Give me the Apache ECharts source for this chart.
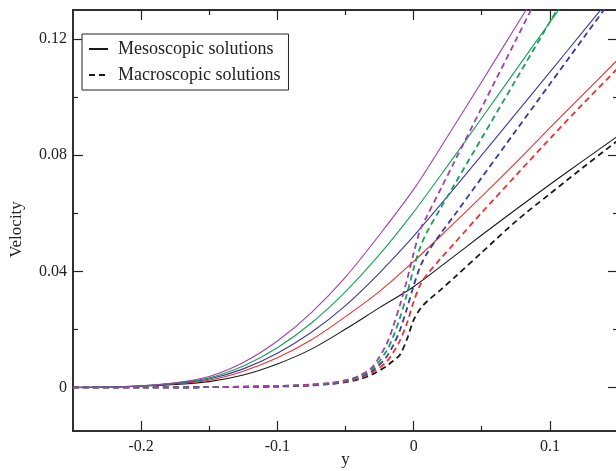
<!DOCTYPE html>
<html>
<head>
<meta charset="utf-8">
<script src="https://cdn.jsdelivr.net/npm/echarts@6/dist/echarts.min.js"></script>
<style>
  html, body { margin: 0; padding: 0; background: #fff; }
  #chart { width: 616px; height: 471px; }
</style>
</head>
<body>
<div id="chart"></div>
<script>
// data
var xSolid = [-0.25, -0.225, -0.2, -0.175, -0.15, -0.125, -0.1, -0.075, -0.05, -0.025, 0, 0.025, 0.05, 0.075, 0.1, 0.125, 0.15];
var mesoBlack  = [0, 0.0001, 0.0004, 0.0010, 0.0020, 0.0043, 0.0081, 0.0132, 0.0201, 0.0275, 0.0347, 0.0435, 0.0525, 0.0613, 0.0699, 0.0783, 0.0866];
var mesoRed    = [0, 0.0001, 0.0005, 0.0013, 0.0025, 0.0056, 0.0102, 0.0164, 0.0244, 0.0331, 0.0434, 0.0545, 0.0658, 0.0774, 0.0894, 0.1012, 0.1130];
var mesoBlue   = [0, 0.0001, 0.0005, 0.0014, 0.0029, 0.0064, 0.0118, 0.0190, 0.0282, 0.0395, 0.0521, 0.0659, 0.0800, 0.0943, 0.1086, 0.1230, 0.1373];
var mesoGreen  = [0, 0.0001, 0.0006, 0.0015, 0.0033, 0.0074, 0.0137, 0.0222, 0.0330, 0.0458, 0.0604, 0.0764, 0.0928, 0.1093, 0.1258, 0.1420, 0.1580];
var mesoPurple = [0, 0.0001, 0.0006, 0.0016, 0.0038, 0.0086, 0.0160, 0.0258, 0.0380, 0.0526, 0.0682, 0.0865, 0.1053, 0.1243, 0.1432, 0.1620, 0.1810];

var xDashed = [-0.25, -0.2, -0.15, -0.1, -0.075, -0.06, -0.05, -0.04, -0.03, -0.02, -0.015, -0.01, -0.005, 0, 0.005, 0.01, 0.02, 0.03, 0.05, 0.075, 0.1, 0.125, 0.15];
var macroBlack  = [0, 0, 0.0001, 0.0003, 0.0007, 0.0012, 0.0018, 0.0028, 0.0046, 0.0073, 0.0092, 0.0113, 0.0165, 0.0232, 0.0272, 0.0297, 0.0337, 0.0379, 0.0465, 0.0572, 0.0667, 0.0760, 0.0851];
var macroRed    = [0, 0, 0.0001, 0.0004, 0.0008, 0.0013, 0.0020, 0.0031, 0.0052, 0.0088, 0.0120, 0.0162, 0.0220, 0.0295, 0.0355, 0.0390, 0.0445, 0.0497, 0.0602, 0.0730, 0.0857, 0.0980, 0.1100];
var macroBlue   = [0, 0, 0.0001, 0.0004, 0.0009, 0.0014, 0.0021, 0.0034, 0.0058, 0.0105, 0.0145, 0.0198, 0.0270, 0.0350, 0.0418, 0.0463, 0.0531, 0.0594, 0.0723, 0.0884, 0.1045, 0.1206, 0.1367];
var macroGreen  = [0, 0, 0.0001, 0.0005, 0.0009, 0.0015, 0.0023, 0.0037, 0.0064, 0.0125, 0.0175, 0.0240, 0.0320, 0.0410, 0.0485, 0.0537, 0.0619, 0.0699, 0.0859, 0.1059, 0.1259, 0.1459, 0.1659];
var macroPurple = [0, 0, 0.0001, 0.0005, 0.0010, 0.0016, 0.0025, 0.0040, 0.0072, 0.0148, 0.0210, 0.0285, 0.0368, 0.0462, 0.0545, 0.0592, 0.0685, 0.0778, 0.0964, 0.1196, 0.1429, 0.1660, 0.1890];

// ticks
var xMajor = [-0.2, -0.1, 0, 0.1];
var xMinor = [-0.15, -0.05, 0.05];
var yMajor = [0, 0.04, 0.08, 0.12];
var yMinor = [0.02, 0.06, 0.1];

var font = '"Liberation Serif", "DejaVu Serif", serif';
var ink = '#222';
var colors = { black: '#1a1a1a', red: '#ee3030', blue: '#3a3aa0', green: '#18a058', purple: '#a040aa' };

function pairs(xs, ys) {
    return xs.map(function (x, i) { return [x, ys[i]]; });
}

function solid(name, ys, color) {
    return {
        name: name, type: 'line', data: pairs(xSolid, ys),
        symbol: 'none', smooth: 0.3,
        lineStyle: { color: color, width: 1.1 }, itemStyle: { color: color },
        silent: true
    };
}
function dashed(name, ys, color) {
    return {
        name: name, type: 'line', data: pairs(xDashed, ys),
        symbol: 'none', smooth: 0.3,
        lineStyle: { color: color, width: 1.8, type: [6, 4] }, itemStyle: { color: color },
        silent: true
    };
}

var axisLine = { show: true, onZero: false, lineStyle: { color: ink, width: 1.5 } };
var tickStyle = { color: ink, width: 1.2 };

function xAx(pos, values, len, withLabels) {
    return {
        type: 'value', min: -0.25, max: 0.15, position: pos,
        name: withLabels ? 'y' : '', nameLocation: 'middle', nameGap: 20, nameMoveOverlap: false,
        nameTextStyle: { fontFamily: font, fontSize: 17, color: ink },
        axisLine: axisLine,
        axisTick: { show: true, inside: true, length: len, customValues: values, lineStyle: tickStyle },
        axisLabel: withLabels ? { show: true, customValues: values, margin: 8, fontFamily: font, fontSize: 16, color: ink } : { show: false },
        splitLine: { show: false }
    };
}
function yAx(pos, values, len, withLabels) {
    return {
        type: 'value', min: -0.015, max: 0.13, position: pos,
        name: withLabels ? 'Velocity' : '', nameLocation: 'middle', nameGap: 48, nameMoveOverlap: false,
        nameTextStyle: { fontFamily: font, fontSize: 17, color: ink, padding: [0, 18, 0, 0] },
        axisLine: axisLine,
        axisTick: { show: true, inside: true, length: len, customValues: values, lineStyle: tickStyle },
        axisLabel: withLabels ? { show: true, customValues: values, margin: 6, fontFamily: font, fontSize: 16, color: ink } : { show: false },
        splitLine: { show: false }
    };
}

var chart = echarts.init(document.getElementById('chart'));
chart.setOption({
    animation: false,
    backgroundColor: '#fff',
    grid: { left: 73, right: -2, top: 10, bottom: 40, outerBoundsMode: 'none', containLabel: false },
    legend: {
        data: ['Mesoscopic solutions', 'Macroscopic solutions'],
        orient: 'vertical', left: 82, top: 34,
        itemWidth: 19, itemHeight: 12, itemGap: 8,
        padding: [6, 8, 6, 6],
        borderColor: ink, borderWidth: 1, backgroundColor: '#fff',
        itemStyle: { opacity: 0 },
        textStyle: { fontFamily: font, fontSize: 18, color: ink, padding: [0, 0, 0, 5] },
        selectedMode: false
    },
    xAxis: [
        xAx('bottom', xMajor, 10, true),
        xAx('bottom', xMinor, 5, false),
        xAx('top', xMajor, 10, false),
        xAx('top', xMinor, 5, false)
    ],
    yAxis: [
        yAx('left', yMajor, 10, true),
        yAx('left', yMinor, 5, false),
        yAx('right', yMajor, 10, false),
        yAx('right', yMinor, 5, false)
    ],
    series: [
        solid('Mesoscopic solutions', mesoBlack, colors.black),
        solid('meso red', mesoRed, colors.red),
        solid('meso blue', mesoBlue, colors.blue),
        solid('meso green', mesoGreen, colors.green),
        solid('meso purple', mesoPurple, colors.purple),
        dashed('Macroscopic solutions', macroBlack, colors.black),
        dashed('macro red', macroRed, colors.red),
        dashed('macro blue', macroBlue, colors.blue),
        dashed('macro green', macroGreen, colors.green),
        dashed('macro purple', macroPurple, colors.purple)
    ]
});
</script>
</body>
</html>
